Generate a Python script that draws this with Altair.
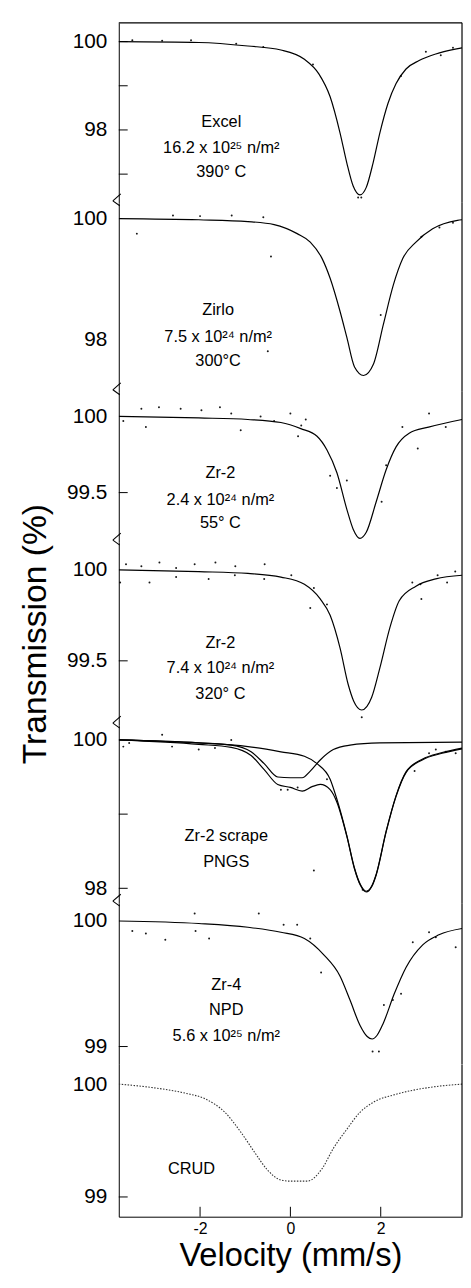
import altair as alt
import pandas as pd

NARROW = "Liberation Sans Narrow, Liberation Sans, sans-serif"
SANS = "Liberation Sans, Arial, sans-serif"

X_DOMAIN = [-3.8, 3.8]
X_LABELS = [-2, 0, 2]
PLOT_W = 347

# ---------------- Panel 1 : Excel ----------------
excel_v = [-3.8, -2.03, -0.94, -0.21, 0.31, 0.63, 0.88, 1.10, 1.25, 1.39, 1.54,
           1.68, 1.83, 1.98, 2.16, 2.34, 2.56, 2.85, 3.22, 3.65, 3.8]
excel_t = [100.0, 99.98, 99.90, 99.81, 99.60, 99.27, 98.75, 97.93, 97.25, 96.73, 96.53,
           96.70, 97.25, 97.93, 98.60, 99.05, 99.38, 99.57, 99.72, 99.83, 99.86]
excel_dot_v = [-3.5, -2.84, -2.2, -1.2, -0.6, 0.5, 1.50, 1.57, 2.45, 3.0, 3.33, 3.6]
excel_dot_t = [100.03, 100.02, 100.03, 99.95, 99.88, 99.48, 96.47, 96.47, 99.22, 99.77, 99.69, 99.86]

# ---------------- Panel 2 : Zirlo ----------------
zirlo_v = [-3.8, -2.03, -0.94, -0.36, 0.15, 0.44, 0.70, 0.88, 1.10, 1.25, 1.42,
           1.62, 1.84, 2.06, 2.28, 2.49, 2.78, 3.15, 3.7, 3.8]
zirlo_t = [100.0, 99.98, 99.95, 99.90, 99.75, 99.61, 99.34, 99.01, 98.46, 98.03, 97.54,
           97.40, 97.59, 98.25, 98.90, 99.34, 99.61, 99.83, 99.97, 99.98]
zirlo_dot_v = [-3.4, -2.6, -2.0, -1.3, -0.6, -0.43, -0.5, 2.0, 2.9, 3.3, 3.6]
zirlo_dot_t = [99.75, 100.05, 100.04, 100.05, 100.02, 99.37, 97.8, 98.4, 99.70, 99.85, 99.93]

# ---------------- Panel 3 : Zr-2, 55 C ----------------
zr2a_v = [-3.8, -2.03, -0.94, -0.21, 0.23, 0.59, 0.81, 1.03, 1.25, 1.39, 1.54,
          1.68, 1.90, 2.12, 2.34, 2.63, 3.06, 3.8]
zr2a_t = [100.0, 99.99, 99.98, 99.96, 99.92, 99.87, 99.78, 99.63, 99.39, 99.26, 99.20,
          99.24, 99.44, 99.65, 99.80, 99.89, 99.93, 99.98]
zr2a_dot_v = [-3.7, -3.2, -3.3, -2.91, -2.43, -1.97, -1.56, -1.31, -1.1, -0.66, -0.36, 0.0, 0.17,
              0.24, 0.34, 0.88, 1.03, 1.25, 1.42, 1.64, 2.02, 2.12, 2.48, 2.82, 3.07, 3.44]
zr2a_dot_t = [99.97, 99.93, 100.05, 100.06, 100.05, 100.04, 100.06, 100.02, 99.91, 100.0, 99.97, 100.02, 99.87,
              99.94, 99.98, 99.61, 99.53, 99.58, 99.17, 99.17, 99.44, 99.68, 99.93, 99.79, 100.02, 99.93]

# ---------------- Panel 4 : Zr-2, 320 C ----------------
zr2b_v = [-3.8, -2.03, -0.94, -0.21, 0.31, 0.66, 0.88, 1.10, 1.28, 1.40, 1.58,
          1.80, 1.98, 2.20, 2.41, 2.78, 3.22, 3.8]
zr2b_t = [100.0, 99.99, 99.98, 99.96, 99.92, 99.84, 99.75, 99.57, 99.37, 99.28, 99.23,
          99.30, 99.46, 99.68, 99.83, 99.91, 99.95, 99.97]
zr2b_dot_v = [-3.64, -3.3, -2.9, -2.53, -2.12, -1.66, -1.22, -0.57, 0.02, -3.77, -3.12, -2.53, -1.81,
              -1.23, -0.58, 0.44, 0.81, 0.52, 1.58, 2.88, 3.26, 3.47, 3.65, 2.9, 2.7]
zr2b_dot_t = [100.03, 100.02, 100.04, 100.01, 100.03, 100.04, 100.02, 100.03, 99.97, 99.93, 99.93, 99.96, 99.95,
              99.97, 99.95, 99.79, 99.81, 99.90, 99.19, 99.92, 99.97, 99.93, 99.99, 99.84, 99.93]

# ---------------- Panel 5 : Zr-2 scrape PNGS (two components + total) ----------------
scrape_main_v = [-3.8, -2.03, -0.94, -0.21, 0.31, 0.59, 0.88, 1.03, 1.25, 1.42, 1.55,
                 1.68, 1.80, 1.90, 2.12, 2.34, 2.56, 2.92, 3.36, 3.8]
scrape_main_t = [100.0, 99.96, 99.91, 99.84, 99.78, 99.68, 99.47, 99.20, 98.71, 98.27, 98.05,
                 97.96, 98.03, 98.19, 98.77, 99.25, 99.57, 99.74, 99.83, 99.89]
scrape_sub_v = [-3.8, -2.03, -1.31, -0.87, -0.58, -0.28, 0.0, 0.26, 0.44, 0.66, 0.95, 1.32, 1.98, 3.8]
scrape_sub_t = [100.0, 99.96, 99.93, 99.84, 99.68, 99.50, 99.49, 99.49, 99.58, 99.73, 99.87, 99.93, 99.96, 99.97]
scrape_total_v = [-3.8, -2.03, -1.31, -0.87, -0.58, -0.28, 0.0, 0.26, 0.48, 0.66, 0.88, 1.03,
                  1.25, 1.42, 1.55, 1.68, 1.80, 1.90, 2.12, 2.34, 2.56, 2.92, 3.36, 3.8]
scrape_total_t = [100.0, 99.94, 99.90, 99.79, 99.60, 99.40, 99.36, 99.31, 99.37, 99.40, 99.33, 99.16,
                  98.70, 98.26, 98.04, 97.95, 98.02, 98.18, 98.76, 99.24, 99.56, 99.73, 99.82, 99.88]
scrape_dot_v = [-3.7, -3.57, -2.84, -2.62, -2.03, -1.67, -1.31, -0.21, -0.06, 0.16, 0.81, 3.22, 3.44,
                3.66, 0.52, 1.6, 2.75, 3.07]
scrape_dot_t = [99.91, 99.96, 100.07, 99.91, 99.87, 99.89, 100.0, 99.33, 99.33, 99.36, 99.47, 99.87, 99.84,
                99.82, 98.24, 97.98, 99.58, 99.82]

# ---------------- Panel 6 : Zr-4 NPD ----------------
zr4_v = [-3.8, -2.03, -0.94, -0.21, 0.31, 0.74, 1.10, 1.32, 1.54, 1.70, 1.81,
         1.92, 2.05, 2.30, 2.56, 2.93, 3.29, 3.8]
zr4_t = [100.0, 99.98, 99.95, 99.91, 99.86, 99.73, 99.56, 99.37, 99.17, 99.08, 99.06,
         99.09, 99.18, 99.42, 99.63, 99.81, 99.89, 99.94]
zr4_dot_v = [-3.5, -3.2, -2.77, -2.1, -1.8, -0.7, -0.15, 0.15, 0.44, 0.68, 1.82, 1.96, 2.07, 2.27,
             2.45, 2.71, 3.07, 3.22, 3.66, -2.12]
zr4_dot_t = [99.92, 99.90, 99.85, 99.92, 99.86, 100.06, 99.97, 99.97, 99.86, 99.59, 98.96, 98.96, 99.33, 99.37,
             99.42, 99.83, 99.91, 99.87, 99.79, 100.06]

# ---------------- Panel 7 : CRUD ----------------
crud_v = [-3.8, -3.07, -2.33, -1.89, -1.45, -1.09, -0.80, -0.51, -0.21, 0.0, 0.37,
          0.70, 0.95, 1.25, 1.54, 1.84, 2.34, 3.07, 3.8]
crud_t = [100.0, 99.97, 99.92, 99.87, 99.75, 99.57, 99.40, 99.24, 99.15, 99.14, 99.14,
          99.25, 99.43, 99.60, 99.75, 99.84, 99.91, 99.97, 100.0]

PANELS = [
    dict(curves=[("fit", excel_v, excel_t)], dots=(excel_dot_v, excel_dot_t),
         ann=[(-1.53, 98.17, "Excel"), (-1.53, 97.58, "16.2 x 10²⁵ n/m²"), (-1.53, 97.05, "390° C")],
         domain=[96.35, 100.425], height=182, labels=[100, 98], ticks=[100, 99, 98, 97]),
    dict(curves=[("fit", zirlo_v, zirlo_t)], dots=(zirlo_dot_v, zirlo_dot_t),
         ann=[(-1.6, 98.49, "Zirlo"), (-1.6, 98.03, "7.5 x 10²⁴ n/m²"), (-1.6, 97.64, "300°C")],
         domain=[97.13, 100.26], height=191, labels=[100, 98], ticks=[]),
    dict(curves=[("fit", zr2a_v, zr2a_t)], dots=(zr2a_dot_v, zr2a_dot_t),
         ann=[(-1.55, 99.63, "Zr-2"), (-1.55, 99.45, "2.4 x 10²⁴ n/m²"), (-1.55, 99.30, "55° C")],
         domain=[99.175, 100.162], height=152, labels=[100, 99.5], ticks=[99.5]),
    dict(curves=[("fit", zr2b_v, zr2b_t)], dots=(zr2b_dot_v, zr2b_dot_t),
         ann=[(-1.55, 99.60, "Zr-2"), (-1.55, 99.46, "7.4 x 10²⁴ n/m²"), (-1.55, 99.32, "320° C")],
         domain=[99.147, 100.152], height=185, labels=[100, 99.5], ticks=[99.5],
         ytitle="Transmission (%)"),
    dict(curves=[("main", scrape_main_v, scrape_main_t), ("sub", scrape_sub_v, scrape_sub_t),
                 ("total", scrape_total_v, scrape_total_t)],
         dots=(scrape_dot_v, scrape_dot_t),
         ann=[(-1.42, 98.71, "Zr-2 scrape"), (-1.42, 98.36, "PNGS")],
         domain=[97.8, 100.2], height=180, labels=[100, 98], ticks=[99, 98]),
    dict(curves=[("fit", zr4_v, zr4_t)], dots=(zr4_dot_v, zr4_dot_t),
         ann=[(-1.42, 99.49, "Zr-4"), (-1.42, 99.29, "NPD"), (-1.42, 99.08, "5.6 x 10²⁵ n/m²")],
         domain=[98.858, 100.142], height=163, labels=[100, 99], ticks=[99], nobreak=True),
    dict(curves=[("fit", crud_v, crud_t)], dots=([], []),
         ann=[(-2.19, 99.25, "CRUD")],
         domain=[98.825, 100.175], height=154, labels=[100, 99], ticks=[99], dotted=True),
]

one_row = pd.DataFrame({"k": [0]})
NO_VIEW = alt.ViewBackground(stroke="transparent", strokeWidth=0, strokeOpacity=0)


def make_panel(p, first, last):
    h = p["height"]
    xs = alt.Scale(domain=X_DOMAIN, nice=False, zero=False)
    ys = alt.Scale(domain=p["domain"], nice=False, zero=False)
    if last:
        xaxis = alt.Axis(values=X_LABELS, labelExpr="'' + datum.value", ticks=False, grid=False,
                         labelFont=SANS, labelFontSize=16, labelPadding=4,
                         title="Velocity (mm/s)", titleFont=SANS, titleFontSize=33,
                         titleFontWeight="normal", titlePadding=3, domainColor="black")
    else:
        xaxis = None
    ykw = dict(values=p["labels"], labelExpr="'' + datum.value", ticks=False, grid=False,
               labelFont=NARROW, labelFontSize=21, labelPadding=12, domainColor="black")
    if p.get("ytitle"):
        yaxis = alt.Axis(title=p["ytitle"], titleFont=SANS, titleFontSize=34,
                         titleFontWeight="normal", titleX=-84, titleY=h / 2,
                         titleBaseline="middle", titleAlign="center", **ykw)
    else:
        yaxis = alt.Axis(title=None, **ykw)

    def X():
        return alt.X("v:Q", scale=xs, axis=xaxis)

    def Y():
        return alt.Y("t:Q", scale=ys, axis=yaxis)

    rows = []
    for name, vv, tt in p["curves"]:
        for a, b in zip(vv, tt):
            rows.append({"series": name, "v": a, "t": b})
    cdf = pd.DataFrame(rows)
    if p.get("dotted"):
        line = alt.Chart(cdf).mark_line(interpolate="monotone", color="#333", strokeWidth=1.1,
                                        strokeDash=[1.5, 1.5], clip=True)
    else:
        line = alt.Chart(cdf).mark_line(interpolate="monotone", color="black", strokeWidth=1.2, clip=True)
    layers = [line.encode(x=X(), y=Y(), detail="series:N")]

    dv, dt = p["dots"]
    if len(dv):
        ddf = pd.DataFrame({"v": dv, "t": dt})
        layers.append(alt.Chart(ddf).mark_circle(size=4, color="black", opacity=0.9, clip=True)
                      .encode(x=X(), y=Y()))

    if p["ticks"]:
        tdf = pd.DataFrame({"t": p["ticks"]})
        layers.append(alt.Chart(tdf).mark_rule(color="black", strokeWidth=1)
                      .encode(y=Y(), x=alt.value(0), x2=alt.value(9)))
    if last:
        xdf = pd.DataFrame({"v": X_LABELS})
        layers.append(alt.Chart(xdf).mark_rule(color="black", strokeWidth=1)
                      .encode(x=X(), y=alt.value(h - 10), y2=alt.value(h)))

    adf = pd.DataFrame({"v": [a[0] for a in p["ann"]], "t": [a[1] for a in p["ann"]],
                        "label": [a[2] for a in p["ann"]]})
    layers.append(alt.Chart(adf).mark_text(font=SANS, fontSize=16.5, color="black",
                                           align="center", baseline="middle")
                  .encode(x=X(), y=Y(), text="label:N"))

    # right frame
    layers.append(alt.Chart(one_row).mark_rule(color="black", strokeWidth=1.2)
                  .encode(x=alt.value(PLOT_W), y=alt.value(0), y2=alt.value(h)))
    if first:
        layers.append(alt.Chart(one_row).mark_rule(color="black", strokeWidth=1.2)
                      .encode(x=alt.value(0), x2=alt.value(PLOT_W), y=alt.value(0)))
    if not last and not p.get("nobreak"):
        layers.append(alt.Chart(one_row).mark_rule(color="black", strokeWidth=1.1)
                      .encode(x=alt.value(2), y=alt.value(h - 9), x2=alt.value(-6), y2=alt.value(h - 2)))
        layers.append(alt.Chart(one_row).mark_rule(color="black", strokeWidth=1.1)
                      .encode(x=alt.value(-6), y=alt.value(h - 2), x2=alt.value(1), y2=alt.value(h + 3)))

    return alt.layer(*layers).properties(width=PLOT_W, height=h, view=NO_VIEW)


panels = [make_panel(p, i == 0, i == len(PANELS) - 1) for i, p in enumerate(PANELS)]

chart = alt.vconcat(*panels, spacing=0, bounds="flush").properties(
    padding={"left": 10, "top": 7, "right": 0, "bottom": 0}
).configure_view(stroke="transparent", strokeWidth=0).configure_axis(
    domainColor="black", domainWidth=1.2, labelColor="black", titleColor="black"
).configure(background="white")

chart.save("out.html", embed_options={"renderer": "svg", "actions": False})
